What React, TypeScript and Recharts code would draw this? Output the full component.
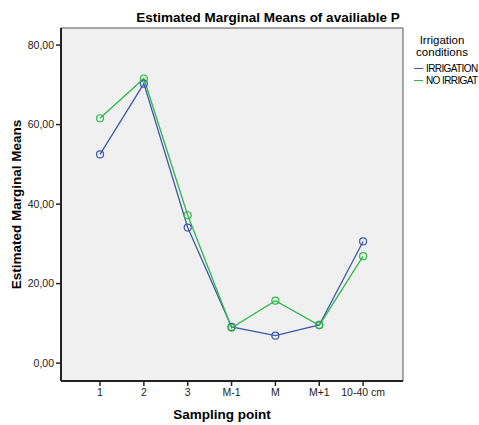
import React from 'react';
import {
  LineChart,
  Line,
  XAxis,
  YAxis,
  ReferenceArea,
  Label
} from 'recharts';

const samplingPoints = ['1', '2', '3', 'M-1', 'M', 'M+1', '10-40 cm'];
const irrigation = [52.5, 70.3, 34.1, 9.1, 6.9, 9.6, 30.6];
const noIrrigation = [61.6, 71.6, 37.2, 8.9, 15.7, 9.5, 26.9];
const yTicks = [0, 20, 40, 60, 80];

const BLUE = '#3e58ac';
const GREEN = '#2eb848';
const FONT = '"Liberation Sans", Arial, sans-serif';

const data = samplingPoints.map((label, i) => ({
  idx: i + 1,
  label,
  irrigation: irrigation[i],
  noIrrigation: noIrrigation[i],
}));

const legendItems = [
  { name: 'IRRIGATION', color: BLUE },
  { name: 'NO IRRIGAT', color: GREEN },
];

export default function App(): React.JSX.Element {
  return (
    <div style={{ position: 'absolute', left: 0, top: 0, width: 479, height: 425, background: '#fff' }}>
      <LineChart
        width={479}
        height={425}
        data={data}
        margin={{ top: 28, right: 76, left: 0, bottom: 0 }}
      >
        <text x={268} y={22} textAnchor="middle" fontFamily={FONT} fontWeight="bold" fontSize={13.5} fill="#000">
          Estimated Marginal Means of availiable P
        </text>
        <ReferenceArea
          x1={0.11}
          x2={7.91}
          y1={-4.5}
          y2={84.3}
          fill="#f0f0f0"
          fillOpacity={1}
          stroke="#555"
          strokeWidth={1}
        />
        <XAxis
          dataKey="idx"
          type="number"
          domain={[0.11, 7.91]}
          ticks={[1, 2, 3, 4, 5, 6, 7]}
          tickFormatter={(v: number) => samplingPoints[v - 1]}
          tick={{ fill: '#222', fontSize: 10.5, fontFamily: FONT }}
          tickSize={5}
          tickMargin={3}
          axisLine={{ stroke: '#222', strokeWidth: 2 }}
          tickLine={{ stroke: '#222', strokeWidth: 1.5 }}
          height={44}
          allowDataOverflow
        >
          <Label
            value="Sampling point"
            position="insideBottom"
            offset={6}
            dx={-10}
            style={{ fontFamily: FONT, fontWeight: 'bold', fontSize: 13.5, fill: '#000' }}
          />
        </XAxis>
        <YAxis
          type="number"
          domain={[-4.5, 84.3]}
          ticks={yTicks}
          tickFormatter={(v: number) => v.toFixed(2).replace('.', ',')}
          tick={{ fill: '#222', fontSize: 10.5, fontFamily: FONT }}
          tickSize={5}
          tickMargin={2}
          axisLine={{ stroke: '#222', strokeWidth: 2 }}
          tickLine={{ stroke: '#222', strokeWidth: 1.5 }}
          width={61}
          allowDataOverflow
        >
          <Label
            value="Estimated Marginal Means"
            angle={-90}
            position="insideLeft"
            offset={16}
            style={{ fontFamily: FONT, fontWeight: 'bold', fontSize: 13.5, fill: '#000', textAnchor: 'middle' }}
          />
        </YAxis>
        <Line
          dataKey="irrigation"
          name="IRRIGATION"
          stroke={BLUE}
          strokeWidth={1.3}
          dot={{ r: 3.5, stroke: BLUE, strokeWidth: 1.2, fill: 'none' }}
          isAnimationActive={false}
        />
        <Line
          dataKey="noIrrigation"
          name="NO IRRIGAT"
          stroke={GREEN}
          strokeWidth={1.3}
          dot={{ r: 3.5, stroke: GREEN, strokeWidth: 1.2, fill: 'none' }}
          isAnimationActive={false}
        />
      </LineChart>
      <div style={{ position: 'absolute', left: 406, top: 34, width: 72, fontFamily: FONT, color: '#000', fontSize: 11.5, textAlign: 'center', lineHeight: '12px' }}>
        Irrigation<br />conditions
      </div>
      <div style={{ position: 'absolute', left: 414, top: 62, fontFamily: FONT, color: '#000' }}>
        {legendItems.map((it) => (
          <div key={it.name} style={{ display: 'flex', alignItems: 'center', height: 12.5, fontSize: 10, letterSpacing: -0.6 }}>
            <span style={{ display: 'inline-block', width: 9, height: 0, borderTop: `1.4px solid ${it.color}`, marginRight: 3 }} />
            {it.name}
          </div>
        ))}
      </div>
    </div>
  );
}
